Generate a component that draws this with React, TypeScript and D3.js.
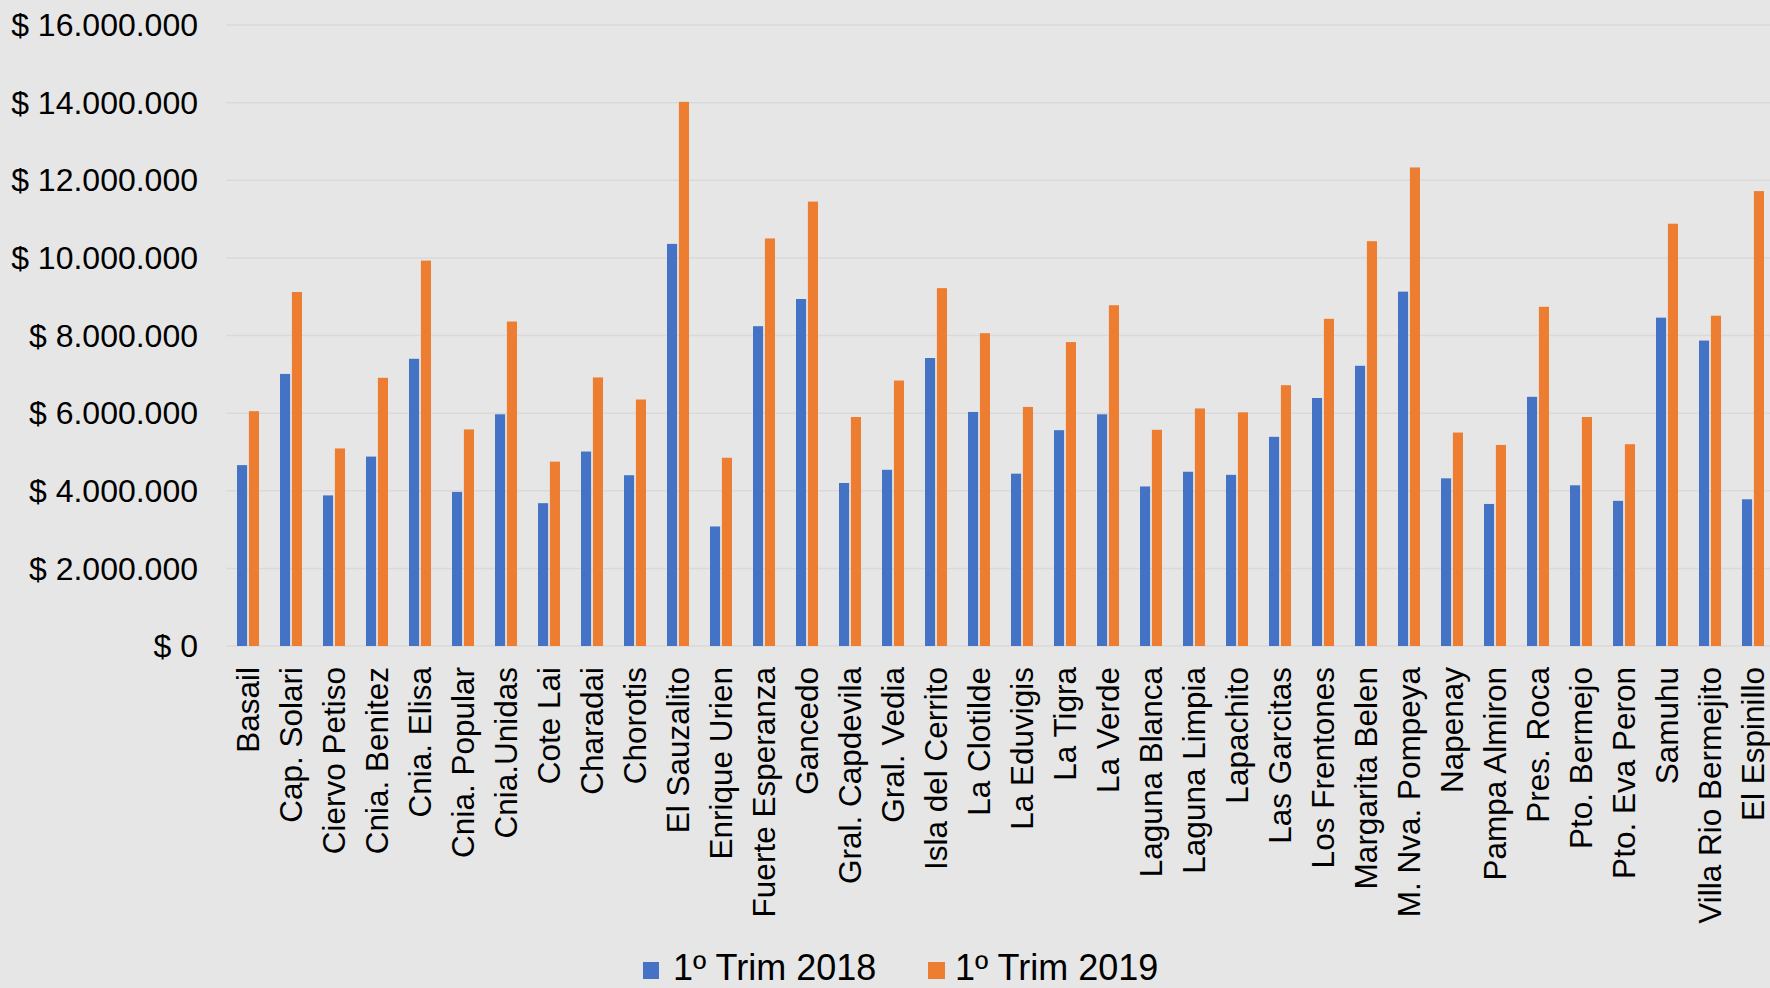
import React from "react";
import * as d3 from "d3";

const categories: string[] = [
  "Basail", "Cap. Solari", "Ciervo Petiso", "Cnia. Benitez", "Cnia. Elisa", "Cnia. Popular",
  "Cnia.Unidas", "Cote Lai", "Charadai", "Chorotis", "El Sauzalito", "Enrique Urien",
  "Fuerte Esperanza", "Gancedo", "Gral. Capdevila", "Gral. Vedia", "Isla del Cerrito", "La Clotilde",
  "La Eduvigis", "La Tigra", "La Verde", "Laguna Blanca", "Laguna Limpia", "Lapachito",
  "Las Garcitas", "Los Frentones", "Margarita Belen", "M. Nva. Pompeya", "Napenay", "Pampa Almiron",
  "Pres. Roca", "Pto. Bermejo", "Pto. Eva Peron", "Samuhu", "Villa Rio Bermejito", "El Espinillo",
];

const trim2018: number[] = [
  4660000, 7010000, 3880000, 4880000, 7400000, 3970000,
  5970000, 3680000, 5010000, 4400000, 10360000, 3080000,
  8240000, 8940000, 4200000, 4540000, 7420000, 6030000,
  4440000, 5560000, 5970000, 4110000, 4490000, 4410000,
  5390000, 6390000, 7220000, 9130000, 4320000, 3660000,
  6420000, 4140000, 3740000, 8460000, 7870000, 3780000,
];

const trim2019: number[] = [
  6050000, 9120000, 5090000, 6910000, 9930000, 5580000,
  8360000, 4750000, 6920000, 6350000, 14020000, 4850000,
  10500000, 11450000, 5900000, 6840000, 9220000, 8060000,
  6160000, 7830000, 8780000, 5570000, 6120000, 6020000,
  6720000, 8430000, 10430000, 12330000, 5500000, 5180000,
  8740000, 5900000, 5200000, 10880000, 8510000, 11720000,
];

const seriesNames: string[] = ["1º Trim 2018", "1º Trim 2019"];
const seriesColors: string[] = ["#4472C4", "#ED7D31"];
const yTicks: number[] = [0, 2000000, 4000000, 6000000, 8000000, 10000000, 12000000, 14000000, 16000000];

const W = 1770;
const H = 988;
const plotLeft = 226.5;
const plotTop = 25;
const plotBottom = 646;
const band = 43;

const fmt = (v: number) => "$ " + d3.format(",")(v).replace(/,/g, ".");

export default function App() {
  const x0 = d3
    .scaleBand<string>()
    .domain(categories)
    .range([plotLeft, plotLeft + band * categories.length])
    .padding(0);
  const x1 = d3.scaleBand<string>().domain(["0", "1"]).range([10.5, 32.5]).paddingInner(0.15);
  const y = d3.scaleLinear().domain([0, 16000000]).range([plotBottom, plotTop]);
  const series = [trim2018, trim2019];
  const font = "Arial, 'Liberation Sans', sans-serif";

  return (
    <svg
      width={W}
      height={H}
      style={{ position: "absolute", left: 0, top: 0, display: "block" }}
      fontFamily={font}
    >
      <rect x={0} y={0} width={W} height={H} fill="#E6E6E6" />
      {yTicks.map((t) => (
        <g key={t}>
          <line x1={plotLeft} x2={W} y1={y(t)} y2={y(t)} stroke="#D9D9D9" strokeWidth={1.5} />
          <text x={198} y={y(t)} dy="0.35em" textAnchor="end" fontSize={32} fill="#000">
            {fmt(t)}
          </text>
        </g>
      ))}
      {categories.map((c, i) => (
        <g key={c} transform={`translate(${x0(c)},0)`}>
          {series.map((s, k) => (
            <rect
              key={k}
              x={x1(String(k))}
              y={y(s[i])}
              width={x1.bandwidth()}
              height={y(0) - y(s[i])}
              fill={seriesColors[k]}
            />
          ))}
          <text
            transform={`translate(${band / 2},667) rotate(-90)`}
            dy="0.35em"
            textAnchor="end"
            fontSize={31.5}
            fill="#000"
          >
            {c}
          </text>
        </g>
      ))}
      <g>
        <rect x={643} y={962} width={16} height={17} fill={seriesColors[0]} />
        <text x={673} y={980} fontSize={36} fill="#000">
          {seriesNames[0]}
        </text>
        <rect x={928} y={962} width={17} height={17} fill={seriesColors[1]} />
        <text x={955} y={980} fontSize={36} fill="#000">
          {seriesNames[1]}
        </text>
      </g>
    </svg>
  );
}
